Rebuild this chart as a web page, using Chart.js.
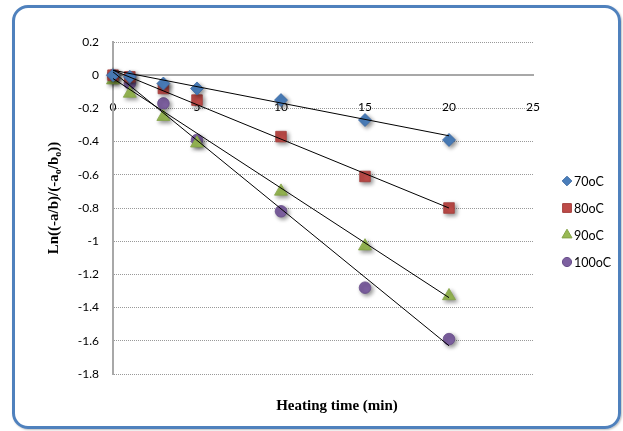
<!DOCTYPE html>
<html>
<head>
<meta charset="utf-8">
<script src="https://cdn.jsdelivr.net/npm/chart.js@4.4.1/dist/chart.umd.min.js"></script>
<style>
  html, body { margin: 0; padding: 0; background: #fff; }
  #frame {
    position: absolute; left: 12px; top: 5px; width: 603px; height: 418px;
    border: 3px solid #4f81bd; border-radius: 16px;
    box-shadow: 1px 1px 2px rgba(0,0,0,0.25);
  }
  #wrap { position: absolute; left: 0; top: 0; width: 623px; height: 431px; }
</style>
</head>
<body>
<div id="frame"></div>
<div id="wrap"><canvas id="chart" width="623" height="431"></canvas></div>
<script>
// heating time (min)
const times = [0, 1, 3, 5, 10, 15, 20];
const seriesNames = ['70oC', '80oC', '90oC', '100oC'];
const s70 = [0, -0.01, -0.05, -0.08, -0.15, -0.27, -0.39];
const s80 = [0, -0.01, -0.08, -0.15, -0.37, -0.61, -0.80];
const s90 = [-0.03, -0.11, -0.25, -0.41, -0.70, -1.03, -1.33];
const s100 = [0, -0.05, -0.17, -0.39, -0.82, -1.28, -1.59];
// linear trendlines, value at first and last time
const trendX = [0, 20];
const trend70 = [0.03, -0.365];
const trend80 = [0.03, -0.80];
const trend90 = [-0.02, -1.34];
const trend100 = [0.02, -1.63];
const xTicks = [0, 5, 10, 15, 20, 25];
const yTicks = [0.2, 0, -0.2, -0.4, -0.6, -0.8, -1, -1.2, -1.4, -1.6, -1.8];

const colors = ['#4a7ebb', '#be4b48', '#98b954', '#7d60a0'];
const borders = ['#3c6aa3', '#a33f3c', '#84a347', '#684e8a'];
const styles = ['rectRot', 'rect', 'triangle', 'circle'];
const radii = [6.5, 7.5, 7.5, 5.8];
const legendRadii = [4.8, 6.2, 5.8, 4.6];

const allSeries = [s70, s80, s90, s100];
const allTrends = [trend70, trend80, trend90, trend100];

Chart.defaults.font.family = 'Lato';
Chart.defaults.color = '#000';

const pts = (xs, ys) => xs.map((x, i) => ({x: x, y: ys[i]}));

const datasets = [];
allTrends.forEach((t, i) => {
  datasets.push({
    label: seriesNames[i] + ' trend',
    data: pts(trendX, t),
    showLine: true,
    borderColor: '#000',
    borderWidth: 1,
    pointRadius: 0,
    order: 0
  });
});
allSeries.forEach((s, i) => {
  datasets.push({
    label: seriesNames[i],
    data: pts(times, s),
    showLine: false,
    pointStyle: styles[i],
    pointRadius: radii[i],
    backgroundColor: colors[i],
    borderColor: borders[i],
    borderWidth: 0.8,
    clip: false,
    order: 1,
    marker: true
  });
});

const extras = {
  id: 'extras',
  beforeDatasetDraw(chart, args) {
    const ctx = chart.ctx;
    ctx.save();
    if (chart.data.datasets[args.index].marker) {
      ctx.shadowColor = 'rgba(0,0,0,0.45)';
      ctx.shadowBlur = 4;
      ctx.shadowOffsetX = 2;
      ctx.shadowOffsetY = 2;
    }
  },
  afterDatasetDraw(chart) {
    chart.ctx.restore();
  },
  afterDraw(chart) {
    const ctx = chart.ctx;
    // x axis title
    ctx.save();
    ctx.fillStyle = '#000';
    ctx.font = 'bold 15px "Liberation Serif"';
    ctx.textAlign = 'center';
    ctx.textBaseline = 'middle';
    ctx.fillText('Heating time (min)', 337, 406);
    ctx.restore();

    // y axis title with subscripts
    const parts = [['Ln((-a/b)/(-a', false], ['o', true], ['/b', false], ['o', true], ['))', false]];
    const big = 'bold 15px "Liberation Serif"';
    const small = 'bold 10px "Liberation Serif"';
    ctx.save();
    ctx.translate(54, 198);
    ctx.rotate(-Math.PI / 2);
    ctx.fillStyle = '#000';
    ctx.textBaseline = 'middle';
    let total = 0;
    parts.forEach(p => { ctx.font = p[1] ? small : big; total += ctx.measureText(p[0]).width; });
    let x = -total / 2;
    parts.forEach(p => {
      ctx.font = p[1] ? small : big;
      ctx.fillText(p[0], x, p[1] ? 4 : 0);
      x += ctx.measureText(p[0]).width;
    });
    ctx.restore();

    // legend
    ctx.save();
    ctx.font = '12.5px Lato';
    ctx.textBaseline = 'middle';
    seriesNames.forEach((name, i) => {
      const y = 181 + i * 27;
      ctx.fillStyle = colors[i];
      ctx.strokeStyle = borders[i];
      Chart.helpers.drawPoint(ctx, {pointStyle: styles[i], radius: legendRadii[i], borderWidth: 0.5, rotation: 0}, 567, y);
      ctx.fillStyle = '#000';
      ctx.fillText(name, 574, y + 0.5);
    });
    ctx.restore();
  }
};

new Chart(document.getElementById('chart'), {
  type: 'scatter',
  data: {datasets: datasets},
  options: {
    responsive: false,
    animation: false,
    layout: {padding: {left: 0, right: 90, top: 42, bottom: 57}},
    plugins: {legend: {display: false}, tooltip: {enabled: false}},
    scales: {
      x: {
        type: 'linear',
        position: {y: 0},
        min: 0,
        max: 25,
        afterBuildTicks: s => { s.ticks = xTicks.map(v => ({value: v})); },
        grid: {display: false},
        border: {display: true, color: '#a8a8a8', width: 2},
        ticks: {font: {size: 12}, padding: 17, maxRotation: 0}
      },
      y: {
        type: 'linear',
        min: -1.8,
        max: 0.2,
        afterBuildTicks: s => { s.ticks = yTicks.map(v => ({value: v})); },
        afterFit: s => { s.width = 113; },
        grid: {color: '#999', lineWidth: 1, drawTicks: false},
        border: {display: true, color: '#a8a8a8', width: 2, dash: [1, 1]},
        ticks: {font: {size: 12}, padding: 14, callback: v => String(Math.round(v * 10) / 10)}
      }
    }
  },
  plugins: [extras]
});
</script>
</body>
</html>
